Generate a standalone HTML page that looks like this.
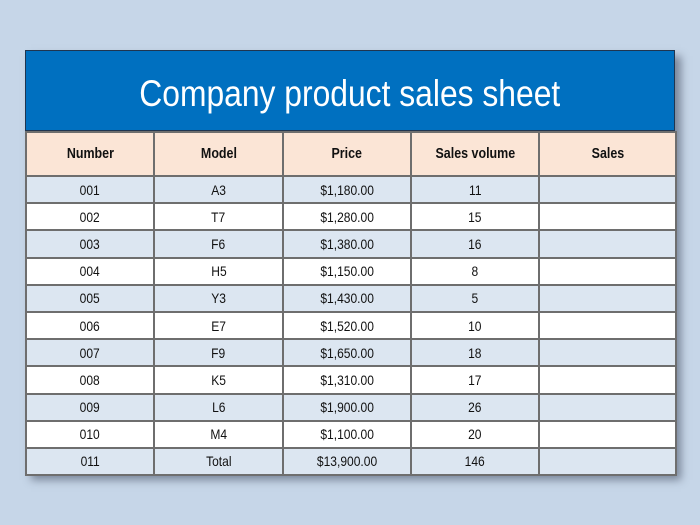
<!DOCTYPE html>
<html><head><meta charset="utf-8"><style>
body{margin:0;width:700px;height:525px;background:#c6d6e8;font-family:"Liberation Sans",sans-serif;position:relative;overflow:hidden}
#sheet{position:absolute;left:25px;top:50px;width:650px;height:424px;box-shadow:6px 6px 8px rgba(60,70,90,.55);background:#dce6f1}
#title{position:absolute;left:0;top:0;width:650px;height:81px;background:#0070c0;color:#fff;font-size:37px;text-align:center;line-height:86px;border:1px solid #1f3550;box-sizing:border-box}
#title span{display:inline-block;transform:scaleX(0.86)}
table{position:absolute;left:0;top:81px;border-collapse:collapse;width:650px;table-layout:fixed}
td{border:2px solid #6e6e6e;text-align:center;font-size:14px;padding:0;color:#111}
td span{display:inline-block;transform:scaleX(0.86)}
tr{height:27.2px}
tr.h{height:44px}
tr.h td{background:#fbe5d6;font-weight:bold;font-size:14.5px}
tr.a td{background:#dce6f1}
tr.b td{background:#fff}
</style></head><body>
<div id="sheet">
<div id="title"><span>Company product sales sheet</span></div>
<table>
<colgroup><col style="width:128px"><col style="width:129px"><col style="width:128px"><col style="width:128px"><col style="width:137px"></colgroup>
<tr class="h"><td><span>Number</span></td><td><span>Model</span></td><td><span>Price</span></td><td><span>Sales volume</span></td><td><span>Sales</span></td></tr>
<tr class="a"><td><span>001</span></td><td><span>A3</span></td><td><span>$1,180.00</span></td><td><span>11</span></td><td></td></tr>
<tr class="b"><td><span>002</span></td><td><span>T7</span></td><td><span>$1,280.00</span></td><td><span>15</span></td><td></td></tr>
<tr class="a"><td><span>003</span></td><td><span>F6</span></td><td><span>$1,380.00</span></td><td><span>16</span></td><td></td></tr>
<tr class="b"><td><span>004</span></td><td><span>H5</span></td><td><span>$1,150.00</span></td><td><span>8</span></td><td></td></tr>
<tr class="a"><td><span>005</span></td><td><span>Y3</span></td><td><span>$1,430.00</span></td><td><span>5</span></td><td></td></tr>
<tr class="b"><td><span>006</span></td><td><span>E7</span></td><td><span>$1,520.00</span></td><td><span>10</span></td><td></td></tr>
<tr class="a"><td><span>007</span></td><td><span>F9</span></td><td><span>$1,650.00</span></td><td><span>18</span></td><td></td></tr>
<tr class="b"><td><span>008</span></td><td><span>K5</span></td><td><span>$1,310.00</span></td><td><span>17</span></td><td></td></tr>
<tr class="a"><td><span>009</span></td><td><span>L6</span></td><td><span>$1,900.00</span></td><td><span>26</span></td><td></td></tr>
<tr class="b"><td><span>010</span></td><td><span>M4</span></td><td><span>$1,100.00</span></td><td><span>20</span></td><td></td></tr>
<tr class="a"><td><span>011</span></td><td><span>Total</span></td><td><span>$13,900.00</span></td><td><span>146</span></td><td></td></tr>
</table>
</div>
</body></html>
